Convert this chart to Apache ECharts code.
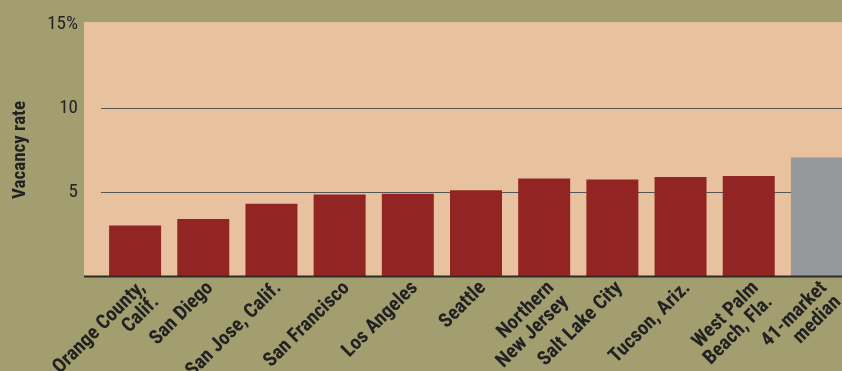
<!DOCTYPE html>
<html>
<head>
<meta charset="utf-8">
<script src="https://cdn.jsdelivr.net/npm/echarts@6/dist/echarts.min.js"></script>
<style>
html,body{margin:0;padding:0;background:#a39e70;}
#c{width:842px;height:371px;}
</style>
</head>
<body>
<div id="c"></div>
<script>
const categories = ['Orange County,\nCalif.', 'San Diego', 'San Jose, Calif.', 'San Francisco', 'Los Angeles', 'Seattle', 'Northern\nNew Jersey', 'Salt Lake City', 'Tucson, Ariz.', 'West Palm\nBeach, Fla.', '41-market\nmedian'];
const vacancy = [3.0, 3.4, 4.3, 4.85, 4.9, 5.1, 5.8, 5.75, 5.9, 5.95, 7.05];
const highlightIndex = 10;
const yTicks = [0, 5, 10, 15];

const FONT = "'Roboto Condensed', 'Liberation Sans Narrow', Roboto, sans-serif";
const chart = echarts.init(document.getElementById('c'), null, {renderer: 'canvas'});
chart.setOption({
  backgroundColor: '#a39e70',
  animation: false,
  graphic: [
    {type: 'rect', z: -10, silent: true, shape: {x: 84, y: 22, width: 758, height: 254}, style: {fill: '#e8c29f'}},
    {type: 'rect', z: 100, silent: true, shape: {x: 84, y: 275.5, width: 758, height: 2}, style: {fill: '#2e2b25'}}
  ],
  grid: {left: 101, right: -9, top: 24, height: 252, containLabel: false, outerBoundsMode: 'none'},
  xAxis: {
    type: 'category',
    data: categories,
    axisLine: {show: false},
    axisTick: {show: false},
    axisLabel: {
      interval: 0, rotate: 45, margin: 2, verticalAlign: 'top', align: 'right',
      color: '#222', fontFamily: FONT, fontWeight: 'bold', fontSize: 20, lineHeight: 20
    }
  },
  yAxis: {
    type: 'value', min: 0, max: 15, interval: 5,
    name: 'Vacancy rate', nameLocation: 'middle', nameGap: 71, nameRotate: 90,
    nameTextStyle: {color: '#222', fontFamily: FONT, fontWeight: 'bold', fontSize: 19},
    axisLine: {show: false}, axisTick: {show: false},
    axisLabel: {
      margin: 23, color: '#222', fontFamily: FONT, fontSize: 19,
      formatter: v => v === 15 ? '15%' : (v === 0 ? '' : String(v))
    },
    splitLine: {lineStyle: {color: ['#555', '#555', '#555', 'rgba(0,0,0,0)'], width: 1}}
  },
  series: [{
    type: 'bar',
    barWidth: 52,
    data: vacancy.map((v, i) => i === highlightIndex ? {value: v, itemStyle: {color: '#97989c'}} : v),
    itemStyle: {color: '#922523'}
  }]
});
</script>
</body>
</html>
